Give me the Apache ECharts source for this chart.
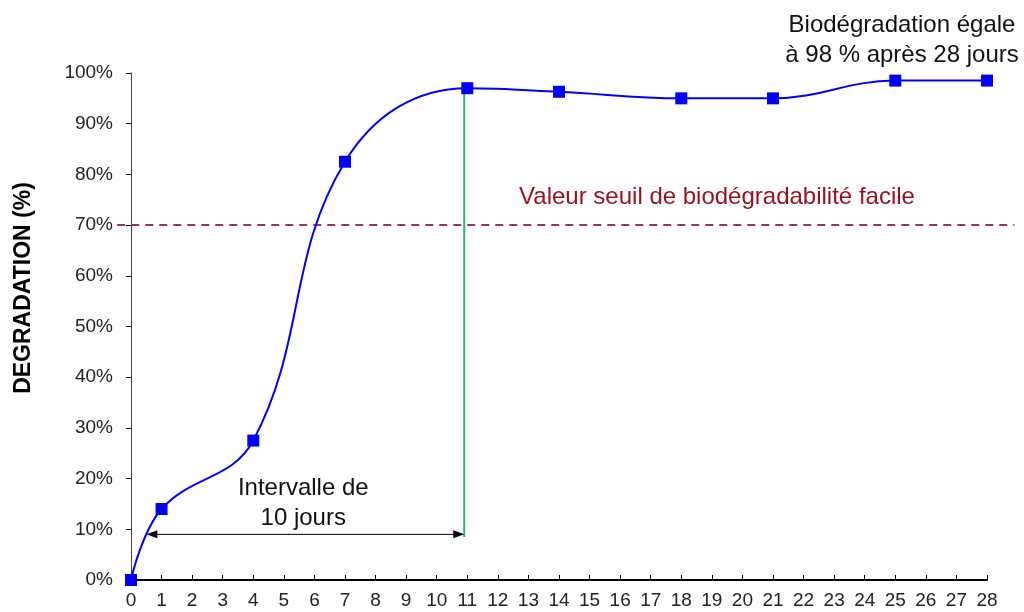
<!DOCTYPE html>
<html>
<head>
<meta charset="utf-8">
<script src="https://cdn.jsdelivr.net/npm/echarts@6/dist/echarts.min.js"></script>
<style>
    html, body { margin: 0; padding: 0; background: #fff; }
    #main { width: 1024px; height: 612px; }
</style>
</head>
<body>
<div id="main"></div>
<script type="text/javascript">
    // jours et degradation (%)
    var jours = [0, 1, 4, 7, 11, 14, 18, 21, 25, 28];
    var degradation = [0, 14, 27.5, 82.5, 97, 96.3, 95, 95, 98.5, 98.5];
    var seuil = 70;
    var jourSeuil = 10.9;
    var debutIntervalle = 0.5;
    var niveauFleche = 9;

    var yTicks = [0, 10, 20, 30, 40, 50, 60, 70, 80, 90, 100];

    var font = 'Liberation Sans, Arial, sans-serif';

    var myChart = echarts.init(document.getElementById('main'));

    var option = {
        backgroundColor: '#fff',
        animation: false,
        grid: {
            left: 131,
            right: 37,
            top: 73,
            bottom: 32
        },
        xAxis: {
            type: 'value',
            min: 0,
            max: 28,
            interval: 1,
            axisLine: { lineStyle: { color: '#000', width: 2 } },
            axisTick: { inside: true, length: 5, lineStyle: { color: '#000' } },
            splitLine: { show: false },
            axisLabel: { color: '#222', fontSize: 19, fontFamily: font, margin: 11 }
        },
        yAxis: {
            type: 'value',
            min: yTicks[0],
            max: yTicks[yTicks.length - 1],
            interval: 10,
            axisLine: { show: true, lineStyle: { color: '#444', width: 1 } },
            axisTick: { show: true, length: 5, lineStyle: { color: '#000' } },
            splitLine: { show: false },
            axisLabel: {
                color: '#222', fontSize: 19, fontFamily: font, margin: 18,
                formatter: '{value}%'
            }
        },
        series: [{
            type: 'line',
            data: jours.map(function (j, i) { return [j, degradation[i]]; }),
            smooth: 0.4,
            symbol: 'rect',
            symbolSize: 12,
            showAllSymbol: true,
            clip: false,
            lineStyle: { color: '#0000ff', width: 2 },
            itemStyle: { color: '#0000ff' },
            z: 5
        }]
    };
    myChart.setOption(option);

    // annotations placees a partir des coordonnees du graphique
    function px(x, y) { return myChart.convertToPixel({ gridIndex: 0 }, [x, y]); }

    var s0 = px(-0.45, seuil), s1 = px(28.9, seuil);
    var g0 = px(jourSeuil, 97), g1 = px(jourSeuil, 8.5);
    var a0 = px(debutIntervalle, niveauFleche), a1 = px(jourSeuil, niveauFleche);
    var ah = 11, aw = 4;

    myChart.setOption({
        graphic: [
            {
                type: 'text', z: 6,
                x: 24, y: 288, rotation: Math.PI / 2,
                style: {
                    text: 'DEGRADATION (%)', fill: '#000', font: 'bold 23px ' + font,
                    align: 'center', verticalAlign: 'middle'
                }
            },
            {
                type: 'line', z: 3,
                shape: { x1: s0[0], y1: s0[1], x2: s1[0], y2: s1[1] },
                style: { stroke: '#993366', lineWidth: 2, lineDash: [8, 6] }
            },
            {
                type: 'line', z: 4,
                shape: { x1: g0[0], y1: g0[1], x2: g1[0], y2: g1[1] },
                style: { stroke: '#33b36b', lineWidth: 2 }
            },
            {
                type: 'line', z: 4,
                shape: { x1: a0[0] + 4, y1: a0[1], x2: a1[0] - 4, y2: a1[1] },
                style: { stroke: '#000', lineWidth: 1 }
            },
            {
                type: 'polygon', z: 4,
                shape: { points: [[a0[0], a0[1]], [a0[0] + ah, a0[1] - aw], [a0[0] + ah, a0[1] + aw]] },
                style: { fill: '#000' }
            },
            {
                type: 'polygon', z: 4,
                shape: { points: [[a1[0], a1[1]], [a1[0] - ah, a1[1] - aw], [a1[0] - ah, a1[1] + aw]] },
                style: { fill: '#000' }
            },
            {
                type: 'text', z: 6,
                x: (a0[0] + a1[0]) / 2 - 2, y: a0[1] - 31,
                style: {
                    text: 'Intervalle de\n10 jours', fill: '#111', font: '24px ' + font,
                    align: 'center', verticalAlign: 'middle', lineHeight: 30
                }
            },
            {
                type: 'text', z: 6,
                x: 717, y: s0[1] - 28,
                style: {
                    text: 'Valeur seuil de biodégradabilité facile', fill: '#9a0f1a',
                    font: '24px ' + font, align: 'center', verticalAlign: 'middle'
                }
            },
            {
                type: 'text', z: 6,
                x: 902, y: 40,
                style: {
                    text: 'Biodégradation égale\nà 98 % après 28 jours', fill: '#111',
                    font: '24px ' + font, align: 'center', verticalAlign: 'middle', lineHeight: 30
                }
            }
        ]
    });
</script>
</body>
</html>
